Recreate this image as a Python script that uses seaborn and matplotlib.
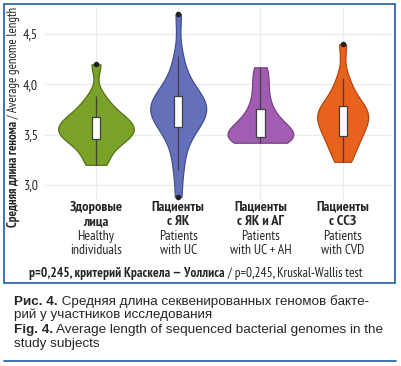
import matplotlib
matplotlib.use("Agg")
import matplotlib.pyplot as plt
import seaborn as sns
import pandas as pd
from matplotlib.font_manager import fontManager
from matplotlib.patches import Rectangle
from matplotlib.lines import Line2D

# ---- data ----
groups = ["healthy", "uc", "uc_ah", "cvd"]
healthy = [3.2, 3.25, 3.35, 3.42, 3.45, 3.48, 3.5, 3.52, 3.55, 3.58, 3.6, 3.62,
           3.65, 3.69, 3.72, 3.8, 3.88, 4.2]
uc = [2.88, 3.15, 3.3, 3.45, 3.55, 3.58, 3.62, 3.66, 3.7, 3.73, 3.75, 3.77, 3.8,
      3.83, 3.86, 3.88, 3.92, 4.0, 4.12, 4.28, 4.7]
uc_ah = [3.42, 3.43, 3.45, 3.47, 3.48, 3.5, 3.53, 3.57, 3.6, 3.65, 3.72, 3.8,
         3.92, 4.05, 4.17]
cvd = [3.23, 3.3, 3.4, 3.46, 3.49, 3.55, 3.6, 3.64, 3.67, 3.7, 3.73, 3.76, 3.79,
       3.85, 3.95, 4.06, 4.4]
labels_ru = [["Здоровые", "лица"], ["Пациенты", "с ЯК"], ["Пациенты", "с ЯК и АГ"],
             ["Пациенты", "с ССЗ"]]
labels_en = [["Healthy", "individuals"], ["Patients", "with UC"], ["Patients", "with UC + AH"],
             ["Patients", "with CVD"]]
yticks = [3.0, 3.5, 4.0, 4.5]
ytick_labels = ["3,0", "3,5", "4,0", "4,5"]

fills = ["#7aa229", "#6470b9", "#a15db2", "#e8621e"]
edges = ["#56741a", "#444f8e", "#7a3f88", "#b5440e"]
widths = [0.92, 0.68, 0.80, 0.62]

df = pd.DataFrame({
    "group": sum([[g] * len(v) for g, v in zip(groups, [healthy, uc, uc_ah, cvd])], []),
    "value": healthy + uc + uc_ah + cvd,
})

names = {f.name for f in fontManager.ttflist}
NARROW = next((n for n in ["PT Sans Narrow", "Roboto Condensed", "Fira Sans Condensed",
                           "IBM Plex Sans Condensed", "Liberation Sans Narrow", "Archivo Narrow"]
               if n in names), "Liberation Sans")
REG = "Liberation Sans" if "Liberation Sans" in names else "DejaVu Sans"

sns.set_theme(style="white")
plt.rcParams["font.family"] = [REG, "DejaVu Sans"]

W, H = 401, 366
fig = plt.figure(figsize=(W / 100, H / 100), dpi=100)
L, R, T, B = 45, 392, 8, 200
ax = fig.add_axes([L / W, 1 - B / H, (R - L) / W, (B - T) / H])

for g, fc, ec, w in zip(groups, fills, edges, widths):
    sns.violinplot(data=df[df.group == g], x="group", y="value", order=groups,
                   color=fc, linecolor=ec, linewidth=0.9, width=w, cut=0,
                   bw_adjust=0.75, inner=None, saturation=1, ax=ax)

sns.boxplot(data=df, x="group", y="value", order=groups, width=0.1,
            showcaps=False, linewidth=0.9, color="white", linecolor="#404040",
            saturation=1,
            flierprops=dict(marker="o", markersize=3, markerfacecolor="#222",
                            markeredgecolor="#222"),
            boxprops=dict(facecolor="white", edgecolor="#404040", zorder=3),
            whiskerprops=dict(color="#404040", linewidth=0.9),
            medianprops=dict(color="#404040", linewidth=0.9), ax=ax)

ax.set_xlim(-0.62, 3.6)
ax.set_ylim(2.85, 4.76)
ax.set_yticks(yticks)
ax.set_yticklabels(ytick_labels, fontfamily=NARROW, fontsize=10)
ax.set_xticks(range(4))
ax.set_xticklabels([])
ax.tick_params(axis="both", length=0, pad=5)
ax.set_xlabel("")
ax.set_ylabel("")
for s in ax.spines.values():
    s.set_visible(False)
ax.grid(True, color="#ececec", linewidth=1.0)
ax.set_axisbelow(True)

fig.canvas.draw()
rend = fig.canvas.get_renderer()


def px(x, y):
    return x / W, 1 - y / H


def measure(runs, size):
    tot = 0
    for t, fam, wt in runs:
        o = fig.text(0, 0, t, fontfamily=fam, fontweight=wt, fontsize=size)
        tot += o.get_window_extent(rend).width
        o.remove()
    return tot


def fit(runs, target, size0=10):
    return size0 * target / measure(runs, size0)


def runs_h(x, y, runs, size, ha="left", va="center"):
    widths_ = []
    objs = []
    for t, fam, wt in runs:
        o = fig.text(0, 0, t, fontfamily=fam, fontweight=wt, fontsize=size, va=va, ha="left")
        widths_.append(o.get_window_extent(rend).width)
        objs.append(o)
    total = sum(widths_)
    x0 = x - total / 2 if ha == "center" else x
    for o, w_ in zip(objs, widths_):
        o.set_position(px(x0, y))
        x0 += w_


def runs_v(x, y, runs, size):
    heights = []
    objs = []
    for t, fam, wt in runs:
        o = fig.text(0, 0, t, fontfamily=fam, fontweight=wt, fontsize=size, rotation=90,
                     va="center", ha="left", rotation_mode="anchor")
        heights.append(o.get_window_extent(rend).height)
        objs.append(o)
    total = sum(heights)
    y0 = y + total / 2
    for o, h in zip(objs, heights):
        o.set_position(px(x, y0))
        y0 -= h


# y label
ylab = [("Средняя длина генома", NARROW, "bold"), (" / Average genome length", NARROW, "normal")]
runs_v(14, 117, ylab, fit(ylab, 220))

# category labels
cat_size = fit([("with UC + AH", NARROW, "normal")], 62)
xs = [ax.transData.transform((i, 0))[0] for i in range(4)]
for xd, ru, en in zip(xs, labels_ru, labels_en):
    fig.text(*px(xd, 207), ru[0], fontfamily=NARROW, fontweight="bold", fontsize=cat_size * 1.05, ha="center", va="center")
    fig.text(*px(xd, 221.5), ru[1], fontfamily=NARROW, fontweight="bold", fontsize=cat_size * 1.05, ha="center", va="center")
    fig.text(*px(xd, 236), en[0], fontfamily=NARROW, fontsize=cat_size, ha="center", va="center")
    fig.text(*px(xd, 250.5), en[1], fontfamily=NARROW, fontsize=cat_size, ha="center", va="center")

foot = [("p=0,245, критерий Краскела — Уоллиса", NARROW, "bold"),
        (" / p=0,245, Kruskal-Wallis test", NARROW, "normal")]
runs_h(196, 273, foot, fit(foot, 333), ha="center")

# frame
fig.patches.append(Rectangle(px(4, 283), (395 - 4) / W, (283 - 4) / H, transform=fig.transFigure,
                             fill=False, edgecolor="#1d5aa6", linewidth=1.2))
fig.lines.append(Line2D([4 / W, 396 / W], [1 - 361 / H] * 2, transform=fig.transFigure,
                        color="#1d5aa6", linewidth=1.2))

# caption
cap1 = [("Рис. 4.", REG, "bold"), (" Средняя длина секвенированных геномов бакте-", REG, "normal")]
cs = min(fit(cap1, 366), 9.7)
runs_h(14, 305, cap1, cs, va="baseline")
runs_h(14, 318, [("рий у участников исследования", REG, "normal")], cs, va="baseline")
runs_h(14, 333.5, [("Fig. 4.", REG, "bold"), (" Average length of sequenced bacterial genomes in the", REG, "normal")], cs, va="baseline")
runs_h(14, 346.5, [("study subjects", REG, "normal")], cs, va="baseline")

fig.savefig("out.png", dpi=100)
